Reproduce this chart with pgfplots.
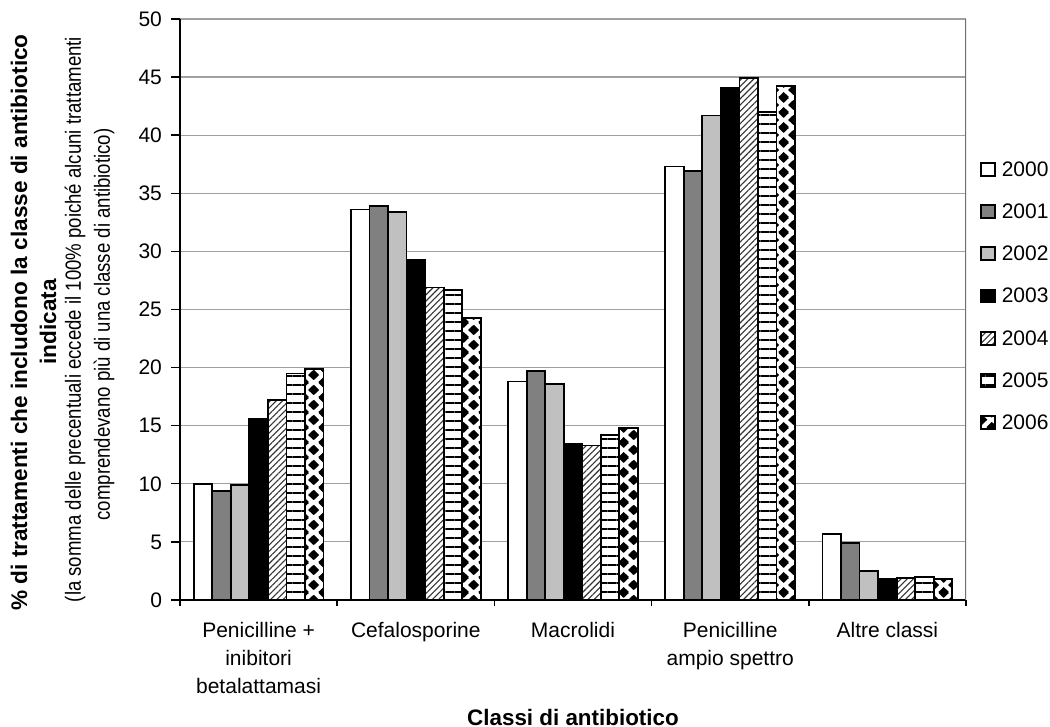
\documentclass[border=0pt]{standalone}
\usepackage{fontspec}
\setmainfont{Liberation Sans}
\usepackage{pgfplots}
\pgfplotsset{compat=1.18}
\usetikzlibrary{patterns,patterns.meta}

% diamond lattice: tile 9.825pt x 7.5pt
\pgfdeclarepatternformonly{diamondcol}{\pgfqpoint{0pt}{0pt}}{\pgfqpoint{9.825pt}{7.5pt}}{\pgfqpoint{9.825pt}{7.5pt}}{%
  \pgfpathmoveto{\pgfqpoint{0pt}{1.1pt}}\pgfpathlineto{\pgfqpoint{2.65pt}{3.75pt}}\pgfpathlineto{\pgfqpoint{0pt}{6.4pt}}\pgfpathlineto{\pgfqpoint{-2.65pt}{3.75pt}}\pgfpathclose
  \pgfpathmoveto{\pgfqpoint{9.825pt}{1.1pt}}\pgfpathlineto{\pgfqpoint{12.475pt}{3.75pt}}\pgfpathlineto{\pgfqpoint{9.825pt}{6.4pt}}\pgfpathlineto{\pgfqpoint{7.175pt}{3.75pt}}\pgfpathclose
  \pgfpathmoveto{\pgfqpoint{4.9125pt}{-2.65pt}}\pgfpathlineto{\pgfqpoint{7.5625pt}{0pt}}\pgfpathlineto{\pgfqpoint{4.9125pt}{2.65pt}}\pgfpathlineto{\pgfqpoint{2.2625pt}{0pt}}\pgfpathclose
  \pgfpathmoveto{\pgfqpoint{4.9125pt}{4.85pt}}\pgfpathlineto{\pgfqpoint{7.5625pt}{7.5pt}}\pgfpathlineto{\pgfqpoint{4.9125pt}{10.15pt}}\pgfpathlineto{\pgfqpoint{2.2625pt}{7.5pt}}\pgfpathclose
  \pgfusepath{fill}}

\definecolor{g1}{HTML}{808080}
\definecolor{g2}{HTML}{C0C0C0}
\definecolor{gridc}{HTML}{A0A0A0}

\pgfplotsset{mybar/.style={ybar, bar width=0.118, draw=black, line width=0.9pt,
  legend image code/.code={\draw[##1, line width=0.9pt] (0pt,-2.7pt) rectangle (6.8pt,3.8pt);}}}

\pgfplotstableread{
x y2000 y2001 y2002 y2003 y2004 y2005 y2006
0 10.0 9.4 9.9 15.6 17.2 19.5 19.9
1 33.6 33.9 33.4 29.3 26.9 26.7 24.3
2 18.8 19.7 18.6 13.4 13.3 14.2 14.8
3 37.3 36.9 41.7 44.1 44.9 42.0 44.2
4 5.7 4.9 2.5 1.8 1.9 2.0 1.8
}\datatable

\begin{document}
\begin{tikzpicture}
\begin{axis}[
  name=ax, at={(0pt,0pt)}, anchor=south west,
  scale only axis, width=393pt, height=290.5pt,
  xmin=-0.5, xmax=4.5, ymin=0, ymax=50,
  ytick={0,5,...,50},
  xtick={0,1,2,3,4},
  xticklabels={{Penicilline +\\inibitori\\betalattamasi},{Cefalosporine},{Macrolidi},{Penicilline\\ampio spettro},{Altre classi}},
  minor xtick={-0.5,0.5,1.5,2.5,3.5,4.5},
  axis x line*=bottom, axis y line*=left,
  axis line style={black, line width=0.9pt},
  tick align=outside,
  major tick length=4.5pt, minor tick length=3pt,
  tick style={black, line width=0.7pt},
  major x tick style={draw=none},
  ymajorgrids, major grid style={gridc, line width=0.6pt},
  /pgf/number format/assume math mode=true,
  ticklabel style={font=\fontsize{10.5}{14}\selectfont},
  xticklabel style={align=center, yshift=-3pt},
  yticklabel style={xshift=-1pt},
  legend style={at={(axis description cs:1,0.5215)}, anchor=west, xshift=7pt,
    draw=none, fill=none, inner sep=0pt, font=\fontsize{10.5}{12}\selectfont,
    row sep=12.3pt, nodes={inner ysep=0pt, inner xsep=3pt}},
  legend cell align=left,
  xlabel={Classi di antibiotico},
  xlabel style={at={(axis description cs:0.5,-0.2014)}, anchor=center, font=\bfseries\fontsize{11.2}{13}\selectfont},
]
\addplot[mybar, bar shift=-0.354, fill=white] table[x=x, y=y2000] {\datatable};
\addplot[mybar, bar shift=-0.236, fill=g1] table[x=x, y=y2001] {\datatable};
\addplot[mybar, bar shift=-0.118, fill=g2] table[x=x, y=y2002] {\datatable};
\addplot[mybar, bar shift=0, fill=black] table[x=x, y=y2003] {\datatable};
\addplot[mybar, bar shift=0.118, preaction={fill=white}, pattern={Lines[angle=45,distance=2.2pt,line width=0.55pt]}, pattern color=black!80] table[x=x, y=y2004] {\datatable};
\addplot[mybar, bar shift=0.236, preaction={fill=white}, pattern={Lines[angle=0,distance=4.5pt,line width=1pt]}, pattern color=black] table[x=x, y=y2005] {\datatable};
\addplot[mybar, bar shift=0.354, preaction={fill=white}, pattern=diamondcol, pattern color=black] table[x=x, y=y2006] {\datatable};
\legend{2000,2001,2002,2003,2004,2005,2006}
\draw[gridc!70!black, line width=0.7pt] (rel axis cs:1,0) -- (rel axis cs:1,1);
\end{axis}
\node[rotate=90, font=\bfseries\fontsize{11.3}{13}\selectfont] at (-80.5pt,138.75pt) {\% di trattamenti che includono la classe di antibiotico};
\node[rotate=90, font=\bfseries\fontsize{11.3}{13}\selectfont] at (-66pt,139pt) {indicata};
\node[rotate=90, font=\fontsize{11}{12}\selectfont] at (-52.5pt,140.25pt) {\scalebox{0.845}[1]{(la somma delle precentuali eccede il 100\% poiché alcuni trattamenti}};
\node[rotate=90, font=\fontsize{11}{12}\selectfont] at (-38pt,137.75pt) {\scalebox{0.845}[1]{comprendevano più di una classe di antibiotico)}};
\pgfresetboundingbox
\path (-90pt,-63.5pt) rectangle (435pt,300pt);
\end{tikzpicture}
\end{document}
